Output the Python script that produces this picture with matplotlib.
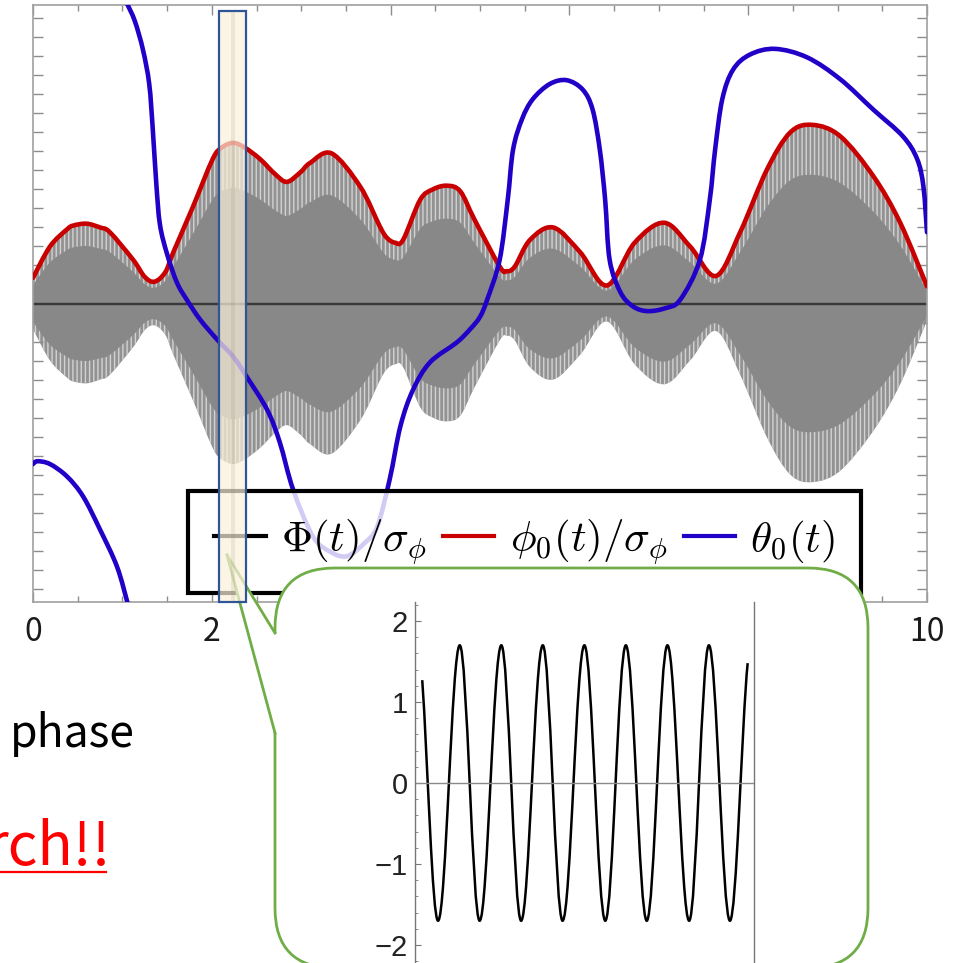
import matplotlib.pyplot as plt
from matplotlib.colors import to_rgba
from matplotlib.lines import Line2D
from matplotlib.patches import FancyBboxPatch, PathPatch, Polygon, Rectangle
from matplotlib.path import Path
from matplotlib.ticker import MultipleLocator
from matplotlib.transforms import blended_transform_factory
import numpy as np

plt.rcParams["mathtext.fontset"] = "cm"

W, H = 955, 963

# envelope phi0(t)/sigma_phi (red)
t_red = [0.0, 0.19, 0.38, 0.45, 0.60, 0.75, 0.86, 1.12, 1.25, 1.36, 1.48, 1.57, 1.79,
         2.01, 2.11, 2.24, 2.37, 2.54, 2.71, 2.84, 2.99, 3.10, 3.34, 3.66, 3.88,
         3.96, 4.05, 4.14, 4.33, 4.47, 4.63, 4.78, 4.94, 5.22, 5.30, 5.39, 5.56,
         5.82, 6.12, 6.42, 6.73, 7.06, 7.35, 7.64, 7.91, 8.21, 8.47, 8.72, 9.03,
         9.40, 9.70, 10.0]
phi0 = [0.27, 0.60, 0.78, 0.82, 0.84, 0.80, 0.75, 0.46, 0.28, 0.23, 0.33, 0.54, 1.02,
        1.52, 1.64, 1.69, 1.64, 1.52, 1.36, 1.28, 1.38, 1.48, 1.58, 1.23, 0.81,
        0.69, 0.64, 0.67, 1.09, 1.20, 1.24, 1.18, 0.88, 0.39, 0.34, 0.39, 0.67,
        0.80, 0.54, 0.19, 0.64, 0.85, 0.60, 0.29, 0.75, 1.41, 1.80, 1.88, 1.76,
        1.34, 0.85, 0.18]

# theta0(t) (blue), wrapped at -pi/pi -> two branches
t_blue_a = [0.0, 0.05, 0.19, 0.38, 0.56, 0.75, 0.94, 1.06]
theta_a = [-1.69, -1.66, -1.69, -1.82, -2.03, -2.38, -2.77, -3.16]

t_blue_b = [1.05, 1.14, 1.23, 1.30, 1.34, 1.38, 1.42, 1.50, 1.61, 1.72, 1.87, 2.06,
            2.24, 2.39, 2.62, 2.76, 2.91, 3.13, 3.32, 3.51, 3.71, 3.85, 3.99, 4.11,
            4.25, 4.44, 4.74, 4.89, 5.00, 5.08, 5.22, 5.31, 5.37, 5.47, 5.59, 5.78,
            5.97, 6.15, 6.26, 6.34, 6.40, 6.45, 6.57, 6.71, 6.87, 7.07, 7.24, 7.46,
            7.57, 7.63, 7.71, 7.83, 8.02, 8.30, 8.66, 9.03, 9.40, 9.73, 9.89, 9.96,
            10.0]
theta_b = [3.16, 2.97, 2.67, 2.31, 1.83, 1.25, 0.83, 0.52, 0.22, 0.04, -0.17, -0.38,
           -0.56, -0.77, -1.12, -1.46, -1.96, -2.45, -2.61, -2.66, -2.52, -2.35, -1.85,
           -1.29, -0.91, -0.62, -0.41, -0.27, -0.14, 0.04, 0.46, 1.09, 1.62, 1.94, 2.15,
           2.31, 2.35, 2.25, 2.04, 1.62, 1.09, 0.46, 0.12, -0.03, -0.08, -0.05, 0.04,
           0.46, 1.09, 1.62, 2.15, 2.46, 2.62, 2.68, 2.59, 2.36, 2.04, 1.76, 1.52,
           1.23, 0.75]

# zoomed window of Phi(t)/sigma_phi: start, alternating extrema, end
inset_t = [2.0864, 2.1004, 2.1196, 2.1372, 2.1564, 2.1739, 2.1931, 2.2106, 2.2299,
           2.2484, 2.2666, 2.2851, 2.3034, 2.3226, 2.3401, 2.3587, 2.3744]
inset_v = [1.27, -1.70, 1.70, -1.70, 1.70, -1.70, 1.70, -1.70, 1.70,
           -1.70, 1.70, -1.70, 1.70, -1.70, 1.70, -1.70, 1.48]

band_t = [2.08, 2.38]

xticks = [0, 2, 4, 6, 8, 10]
xticklabels = ["0", "2", "", "", "", "10"]  # 4, 6, 8 sit under the callout
labels = [r"$\Phi(t)/\sigma_\phi$", r"$\phi_0(t)/\sigma_\phi$", r"$\theta_0(t)$"]


def fx(x):
    return x / W


def fy(y):
    return 1 - y / H


def P(x, y):
    return (x / 100, (H - y) / 100)


def smooth_segments(t, v):
    # Catmull-Rom style bezier through the read points
    pts = np.column_stack([t, v])
    n = len(pts)
    verts, codes = [], []
    for i in range(n - 1):
        p0 = pts[max(i - 1, 0)]
        p1 = pts[i]
        p2 = pts[i + 1]
        p3 = pts[min(i + 2, n - 1)]
        c1 = p1 + (p2 - p0) / 6
        c2 = p2 - (p3 - p1) / 6
        verts += [tuple(c1), tuple(c2), tuple(p2)]
        codes += [Path.CURVE4] * 3
    return verts, codes


def smooth_line(t, v):
    verts, codes = smooth_segments(t, v)
    return Path([(t[0], v[0])] + verts, [Path.MOVETO] + codes)


def smooth_band(t, lo, hi):
    up_v, up_c = smooth_segments(t, hi)
    dn_v, dn_c = smooth_segments(t[::-1], lo[::-1])
    verts = [(t[0], hi[0])] + up_v + [(t[-1], lo[-1])] + dn_v + [(t[0], hi[0])]
    codes = [Path.MOVETO] + up_c + [Path.LINETO] + dn_c + [Path.CLOSEPOLY]
    return Path(verts, codes)


fig = plt.figure(figsize=(W / 100, H / 100), dpi=100)
px = fig.dpi_scale_trans  # inches; 1 px = 0.01

ax = fig.add_axes([fx(33), fy(602), 894 / W, 597 / H])

red = np.array(phi0)
ax.add_patch(PathPatch(smooth_band(t_red, -red, red), facecolor="#929292", hatch="||||",
                       edgecolor="#d2d2d2", linewidth=0, zorder=1))
ax.add_patch(PathPatch(smooth_band(t_red, -0.72 * red, 0.72 * red), facecolor="#888888",
                       edgecolor="none", zorder=1.2))
ax.axhline(0, color="#383838", lw=1.7, zorder=2)

line_kw = dict(facecolor="none", lw=3.3, capstyle="round", joinstyle="round")
ax.add_patch(PathPatch(smooth_line(t_red, phi0), edgecolor="#c80000", zorder=3, **line_kw))
ax.add_patch(PathPatch(smooth_line(t_blue_b, theta_b), edgecolor="#2200c8", zorder=3.5,
                       **line_kw))
ax.add_patch(PathPatch(smooth_line(t_blue_a, theta_a), edgecolor="#2200c8", zorder=3.5,
                       **line_kw))

ax.set_xlim(0, 10)
ax.set_ylim(-np.pi, np.pi)
ax.set_xticks(xticks)
ax.set_xticklabels(xticklabels, family="Noto Sans CJK JP", fontsize=23)
ax.xaxis.set_minor_locator(MultipleLocator(0.5))
ax.yaxis.set_major_locator(MultipleLocator(0.2))
ax.tick_params(which="both", direction="in", top=True, right=True, color="#8c8c8c",
               labelcolor="#1a1a1a", width=1)
ax.tick_params(axis="x", which="major", length=7, pad=10)
ax.tick_params(axis="x", which="minor", length=4.5)
ax.tick_params(axis="y", length=7, labelleft=False)
for s in ax.spines.values():
    s.set_color("#a0a0a0")
    s.set_linewidth(1.2)

h_phi = Line2D([], [], color="black", lw=3)
h_red = Line2D([], [], color="#c80000", lw=3)
h_blue = Line2D([], [], color="#2200c8", lw=3)
leg = ax.legend([h_phi, h_red, h_blue], labels, ncol=3, loc="center",
                bbox_to_anchor=(0.55, 0.1005), fontsize=31, frameon=True,
                fancybox=False, handlelength=1.2, handletextpad=0.35,
                columnspacing=0.38, borderpad=0.6)
frame = leg.get_frame()
frame.set_alpha(None)
frame.set_facecolor((1, 1, 1, 0.8))
frame.set_edgecolor("black")
frame.set_linewidth(3)

# callout
body = FancyBboxPatch(P(275, 968), 5.93, 4.0, boxstyle="round,pad=0,rounding_size=0.6",
                      transform=px, facecolor="white", edgecolor="#70ad47", lw=2,
                      zorder=10)
fig.add_artist(body)
tip = P(227, 555)
fig.add_artist(Polygon([tip, P(275, 633), P(280, 633), P(280, 733), P(275, 733)],
                       closed=True, transform=px, facecolor="white", edgecolor="none",
                       zorder=11))
for yb in (633, 733):
    fig.add_artist(Line2D([tip[0], 2.75], [tip[1], (H - yb) / 100], transform=px,
                          color="#70ad47", lw=2, zorder=12))

# highlighted window
bt = blended_transform_factory(ax.transData, ax.transAxes)
fig.add_artist(Rectangle((band_t[0], 0), band_t[1] - band_t[0], 0.99, transform=bt,
                         facecolor=to_rgba("#fcf2dc", 0.7), edgecolor="#2f5597",
                         lw=1.6, zorder=30))
fig.add_artist(Rectangle((2.21, 0), 0.055, 0.99, transform=bt,
                         facecolor=to_rgba("#8a7a5a", 0.13), edgecolor="none", zorder=31))

# inset
ins = fig.add_axes([fx(415), 0, (754 - 415) / W, (963 - 602) / H], zorder=20)
ins.patch.set_visible(False)
verts = [(inset_t[0], inset_v[0])]
codes = [Path.MOVETO]
k = 0.3642
n = len(inset_t)
for i in range(n - 1):
    t0, v0 = inset_t[i], inset_v[i]
    t1, v1 = inset_t[i + 1], inset_v[i + 1]
    dt = t1 - t0
    if i == 0:
        c1 = (t0 + dt / 3, v0 + (v1 - v0) * 0.31)
    else:
        c1 = (t0 + k * dt, v0)
    if i == n - 2:
        c2 = (t1 - dt / 3, v1 - (v1 - v0) * 0.23)
    else:
        c2 = (t1 - k * dt, v1)
    verts += [c1, c2, (t1, v1)]
    codes += [Path.CURVE4] * 3
ins.add_patch(PathPatch(Path(verts, codes), facecolor="none", edgecolor="black", lw=1.8))
ins.axhline(0, color="#8a8a8a", lw=1)
ins.set_xlim(2.08, 2.38)
ins.set_ylim(-2.222, 2.235)
ins.set_xticks([])
ins.set_yticks([-2, -1, 0, 1, 2])
ins.set_yticklabels(["\u22122", "\u22121", "0", "1", "2"], family="Liberation Sans",
                    fontsize=21)
ins.yaxis.set_minor_locator(MultipleLocator(0.2))
ins.tick_params(axis="y", which="both", direction="in", color="#777777",
                labelcolor="#222222", pad=5)
ins.tick_params(axis="y", which="major", length=4.5)
ins.tick_params(axis="y", which="minor", length=2.5)
for side in ("top", "bottom"):
    ins.spines[side].set_visible(False)
for side in ("left", "right"):
    ins.spines[side].set_color("#777777")
    ins.spines[side].set_linewidth(1)

# slide text
fig.text(fx(10), fy(747), "phase", family="Noto Sans CJK JP", fontsize=32,
         va="baseline", ha="left", color="black")
fig.text(fx(-14), fy(865), "rch!!", family="Noto Sans CJK JP", fontsize=42,
         va="baseline", ha="left", color="#ff0000")
fig.add_artist(Line2D([0, 1.06], [(H - 872) / 100] * 2, transform=px, color="#ff0000",
                      lw=1.6))

fig.savefig("out.png", dpi=100)
